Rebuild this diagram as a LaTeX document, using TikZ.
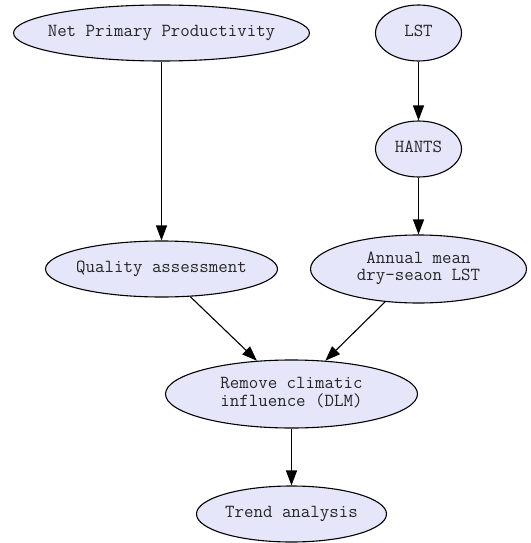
\documentclass[tikz,border=0pt]{standalone}
\usepackage{fontspec}
\usetikzlibrary{shapes.geometric,arrows.meta}
\definecolor{nodefill}{HTML}{E6E6FA}
% centred text that does not widen the ellipse
\newcommand\celltext[1]{\makebox[0pt]{\begin{tabular}{@{}c@{}}#1\end{tabular}}}
\begin{document}
\begin{tikzpicture}[x=1pt,y=-1pt,
  proc/.style={ellipse, draw=black, line width=1.1pt, fill=nodefill, inner sep=0pt,
    font=\ttfamily\fontsize{18.4}{17}\selectfont, text=black!85},
  flow/.style={draw=black, line width=1.1pt, -{Triangle[length=15pt,width=11pt]}}]
\useasboundingbox (0,0) rectangle (530,543);
\node[proc, minimum width=296, minimum height=56] (npp) at (161.5,33) {\celltext{Net Primary Productivity}};
\node[proc, minimum width=86, minimum height=56] (lst) at (418.5,33) {\celltext{LST}};
\node[proc, minimum width=86, minimum height=56] (hants) at (418.5,149) {\celltext{HANTS}};
\node[proc, minimum width=232, minimum height=56] (qa) at (161.5,269) {\celltext{Quality assessment}};
\node[proc, minimum width=216, minimum height=68] (amean) at (418.5,269) {\celltext{Annual mean\\ dry-seaon LST}};
\node[proc, minimum width=252, minimum height=68] (dlm) at (291.5,394) {\celltext{Remove climatic\\ influence (DLM)}};
\node[proc, minimum width=190, minimum height=56] (trend) at (291.5,514) {\celltext{Trend analysis}};
\draw[flow] (npp) -- (qa);
\draw[flow] (lst) -- (hants);
\draw[flow] (hants) -- (amean);
\draw[flow] (qa) -- (dlm);
\draw[flow] (amean) -- (dlm);
\draw[flow] (dlm) -- (trend);
\end{tikzpicture}
\end{document}
